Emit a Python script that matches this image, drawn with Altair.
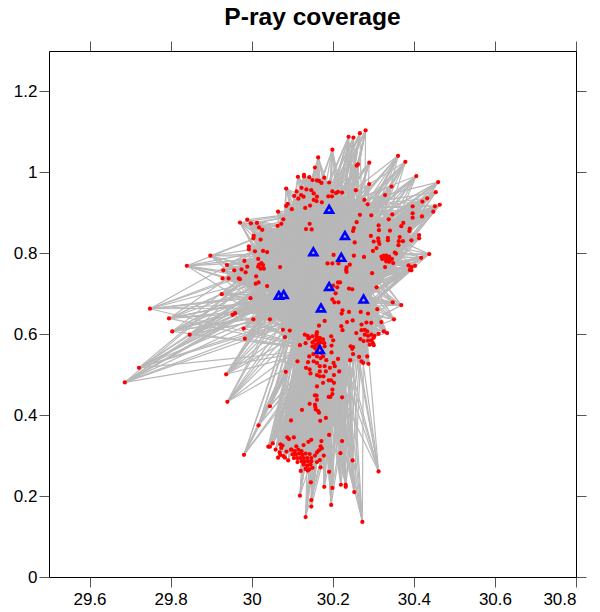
import altair as alt
import pandas as pd

alt.data_transformers.disable_max_rows()

event_x = [
30.281,30.267,30.251,30.239,30.199,30.361,30.379,30.164,30.290,30.262,30.259,30.156,30.406,30.129,30.129,30.114,30.142,30.179,30.150,30.161,30.166,30.172,30.191,30.460,30.290,30.345,30.085,30.123,30.135,30.147,30.111,30.257,30.153,30.199,30.213,30.208,30.223,30.454,30.329,30.105,30.122,30.128,30.115,30.161,30.189,30.198,30.160,30.173,30.153,30.278,30.433,30.421,30.286,30.089,30.085,30.144,30.132,30.397,30.464,30.452,30.065,30.099,30.448,30.397,30.397,30.420,30.267,30.295,30.347,30.338,30.078,29.989,29.971,29.998,30.013,30.073,30.064,30.143,30.259,30.313,30.374,30.369,30.018,30.026,30.134,30.148,30.252,30.250,30.314,30.341,30.390,30.389,30.005,30.004,30.022,30.294,30.413,30.413,30.312,30.313,30.315,30.301,30.336,30.336,30.365,30.373,30.363,30.362,30.394,30.254,29.993,29.993,30.308,30.299,30.028,30.038,30.008,30.202,30.252,30.277,30.353,30.356,30.438,30.418,
30.320,30.326,30.332,30.339,30.322,30.329,30.336,30.342,30.332,30.339,30.349,30.346,30.329,30.016,29.982,30.187,30.199,30.214,30.242,30.234,30.233,30.234,30.024,30.018,30.028,30.016,30.030,30.022,29.989,29.975,29.985,29.957,30.070,30.387,30.403,30.394,30.390,30.394,30.297,30.011,29.968,29.971,30.017,30.010,30.038,30.213,30.218,30.201,30.211,30.308,30.240,30.248,30.207,29.997,30.199,30.204,30.214,30.348,30.369,30.310,30.224,30.222,30.240,30.269,30.287,29.959,29.953,
29.898,29.840,29.930,29.939,29.928,29.943,29.926,29.749,29.796,29.804,29.847,29.722,29.687,29.937,29.940,
29.980,30.004,30.045,29.983,30.077,30.094,30.082,30.166,30.180,30.235,30.249,30.221,30.224,30.271,30.283,30.295,30.279,30.271,30.285,30.258,30.320,30.351,30.313,30.326,30.334,30.279,30.287,30.295,30.303,30.268,30.276,30.287,30.295,30.299,30.301,30.291,30.301,30.244,30.250,30.248,30.250,30.285,30.265,30.271,30.275,30.288,30.243,
30.131,30.138,30.142,30.133,30.119,30.161,30.160,30.156,30.161,30.168,30.176,30.179,30.158,30.164,30.166,30.156,30.161,30.172,30.180,30.197,30.197,30.201,30.196,30.142,30.152,30.161,30.170,30.176,30.184,30.113,30.139,30.153,30.161,30.168,30.180,30.193,30.202,30.205,30.213,30.134,30.143,30.145,30.168,30.183,30.161,30.168,30.177,30.203,30.216,30.190,30.196,30.203,30.176,30.161,30.199,30.199,30.190,30.194,30.223,30.156,30.160,30.161,30.143,30.156,30.157,30.124,30.158,30.164,30.166,30.097,30.183,30.169,30.045,30.017,
30.084,30.191,30.088,30.092,30.104,30.147,30.140,30.172,30.223,30.052,30.041,30.045,30.071,30.076,30.073,30.059,30.069,30.071,30.065,30.078,30.082,30.090,30.086,30.097,30.110,30.128,30.170,30.173,30.166,30.161,30.156,30.178,30.219,30.249,30.313,29.981,30.168,30.161,30.170,
30.098,30.106,30.115,30.123,30.101,30.109,30.117,30.125,30.133,30.143,30.104,30.112,30.120,30.128,30.137,30.147,30.113,30.123,30.131,30.139,30.147,30.128,30.137,30.145,30.133,30.142,30.121,30.138,30.150,
30.191,30.146,30.179,30.199,30.220,30.232,30.232,30.253,30.119,30.147,30.147,30.196,30.133,30.273,
30.140,30.150,30.150,30.160,30.165,30.170,30.150,
]
event_y = [
1.104,1.097,1.086,1.088,1.056,1.041,1.026,1.037,1.024,1.020,1.017,1.012,.991,.994,.990,.989,.988,.987,.981,.980,.979,.974,.975,.976,.971,.965,.960,.962,.958,.956,.953,.956,.948,.953,.952,.949,.950,.951,.944,.942,.944,.940,.935,.940,.941,.941,.929,.926,.932,.932,.936,.928,.921,.922,.917,.918,.912,.916,.920,.916,.903,.909,.903,.899,.888,.891,.895,.894,.896,.884,.884,.883,.876,.874,.875,.873,.868,.873,.877,.869,.875,.867,.864,.858,.860,.859,.862,.855,.857,.856,.861,.855,.843,.837,.834,.843,.845,.837,.837,.830,.823,.829,.838,.832,.840,.830,.830,.820,.832,.827,.817,.810,.813,.806,.806,.803,.805,.796,.794,.791,.802,.799,.798,.789,
.792,.794,.794,.792,.786,.786,.787,.784,.780,.779,.776,.786,.766,.786,.781,.775,.775,.775,.772,.765,.759,.754,.776,.772,.771,.767,.762,.762,.767,.760,.753,.758,.766,.770,.769,.766,.759,.758,.751,.743,.738,.736,.728,.725,.719,.728,.728,.720,.716,.716,.713,.711,.701,.689,.686,.679,.679,.679,.672,.662,.659,.651,.655,.655,.651,.652,.648,
.794,.769,.758,.771,.738,.738,.699,.663,.639,.607,.599,.517,.481,.501,.433,
.614,.637,.637,.589,.611,.609,.593,.621,.633,.630,.634,.620,.610,.624,.629,.628,.611,.610,.607,.603,.630,.637,.601,.607,.603,.599,.596,.599,.596,.588,.583,.584,.585,.578,.591,.574,.573,.570,.568,.564,.551,.545,.544,.533,.529,.527,.536,
.599,.596,.591,.578,.573,.605,.595,.585,.587,.591,.587,.578,.574,.578,.570,.566,.558,.554,.570,.555,.572,.585,.595,.545,.551,.545,.541,.545,.536,.533,.531,.533,.529,.521,.521,.517,.529,.521,.539,.517,.513,.503,.508,.508,.499,.496,.496,.499,.508,.486,.486,.480,.480,.471,.463,.452,.445,.445,.444,.449,.448,.438,.428,.426,.420,.413,.414,.410,.406,.387,.393,.386,.422,.375,
.507,.351,.345,.341,.345,.339,.334,.336,.336,.330,.322,.322,.328,.325,.319,.315,.308,.302,.295,.299,.295,.288,.310,.315,.323,.326,.323,.318,.313,.308,.300,.300,.306,.288,.261,.302,.289,.284,.271,
.315,.311,.315,.311,.303,.303,.305,.302,.305,.304,.294,.294,.294,.294,.294,.294,.284,.286,.285,.286,.286,.278,.275,.278,.267,.266,.262,.263,.270,
.260,.234,.223,.220,.228,.228,.223,.210,.201,.190,.174,.178,.148,.136,
.590,.595,.580,.600,.585,.580,.570,
]
station_x = [30.191,30.230,30.152,30.221,30.191,30.067,30.079,30.276,30.171,30.168]
station_y = [.909,.844,.804,.790,.718,.696,.698,.687,.665,.562]
x_ticks = [29.6,29.8,30,30.2,30.4,30.6,30.8]
y_ticks = [0,0.2,0.4,0.6,0.8,1,1.2]
x_domain = [29.5,30.8]
y_domain = [0,1.3]

n = min(len(event_x), len(event_y))
events = pd.DataFrame({"x": event_x[:n], "y": event_y[:n]})
stations = pd.DataFrame({"x": station_x, "y": station_y})
rays = events.merge(stations.rename(columns={"x": "sx", "y": "sy"}), how="cross")
# the two western stations did not record the southern events
rays = rays[~((rays["y"] < 0.45) & (rays["sx"] < 30.1))]
frame = pd.DataFrame({"x": x_ticks, "y": y_ticks})

xs = alt.Scale(domain=x_domain, nice=False, zero=False)
ys = alt.Scale(domain=y_domain, nice=False, zero=False)
ax = dict(values=x_ticks, format=".1~f", title=None, grid=False, tickSize=10, tickColor="#555555",
          domainColor="#000000", labelFont="Liberation Sans", labelFontSize=17, labelColor="#000000", labelPadding=4)
ay = dict(values=y_ticks, format=".1~f", title=None, grid=False, tickSize=10, tickColor="#555555",
          domainColor="#000000", labelFont="Liberation Sans", labelFontSize=17, labelColor="#000000", labelPadding=2)

ray_layer = alt.Chart(rays).mark_rule(color="#b8b8b8", strokeWidth=1.2).encode(
    x=alt.X("x:Q", scale=xs, axis=alt.Axis(orient="bottom", **ax)),
    y=alt.Y("y:Q", scale=ys, axis=alt.Axis(orient="left", **ay)),
    x2="sx:Q", y2="sy:Q")
event_layer = alt.Chart(events).mark_circle(color="#ff0000", size=18, opacity=1).encode(
    x=alt.X("x:Q", scale=xs), y=alt.Y("y:Q", scale=ys))
station_layer = alt.Chart(stations).mark_point(shape="triangle-up", color="#0000ff", filled=False, size=62,
                                               strokeWidth=2.6, opacity=1).encode(
    x=alt.X("x:Q", scale=xs), y=alt.Y("y:Q", scale=ys))
main = alt.layer(ray_layer, event_layer, station_layer)

ax2 = {**ax, "labels": False}
ay2 = {**ay, "labels": False}
frame_layer = alt.Chart(frame).mark_point(opacity=0).encode(
    x=alt.X("x:Q", scale=xs, axis=alt.Axis(orient="top", **ax2)),
    y=alt.Y("y:Q", scale=ys, axis=alt.Axis(orient="right", **ay2)))

chart = alt.layer(main, frame_layer).resolve_scale(x="independent", y="independent").properties(
    width=527, height=526,
    title=alt.TitleParams("P-ray coverage", font="Liberation Sans", fontSize=24.6, fontWeight="bold",
                          color="#000000", anchor="middle", offset=10),
    autosize=alt.AutoSizeParams(type="none"),
    padding={"left": 41, "top": 43, "right": 16, "bottom": 31},
).configure_view(stroke=None)

chart.save("out.html", embed_options={"renderer": "svg", "actions": False})
